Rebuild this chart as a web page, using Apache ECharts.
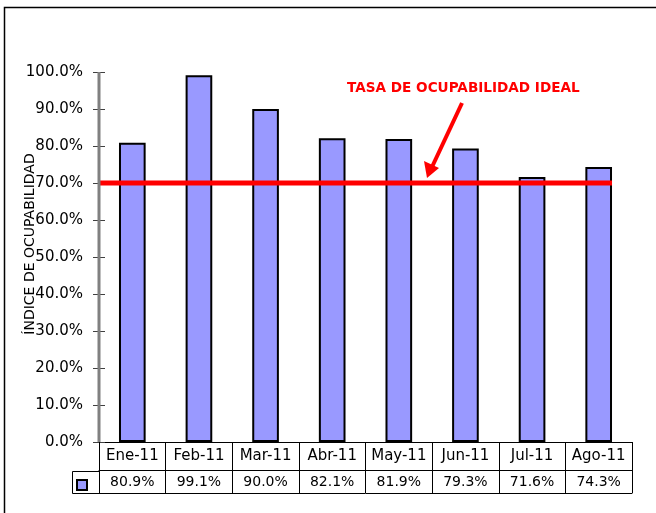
<!DOCTYPE html>
<html>
<head>
<meta charset="utf-8">
<style>
  html, body { margin: 0; padding: 0; background: #fff; }
  #chart { width: 656px; height: 513px; }
</style>
<script src="https://cdn.jsdelivr.net/npm/echarts@6/dist/echarts.min.js"></script>
</head>
<body>
<div id="chart"></div>
<script>
const categories = ['Ene-11', 'Feb-11', 'Mar-11', 'Abr-11', 'May-11', 'Jun-11', 'Jul-11', 'Ago-11']
const ocupabilidad = [0.809, 0.991, 0.900, 0.821, 0.819, 0.793, 0.716, 0.743]
const tasaIdeal = 0.7
const yTicks = [0, 0.1, 0.2, 0.3, 0.4, 0.5, 0.6, 0.7, 0.8, 0.9, 1.0]

const FONT = 'DejaVu Sans'
const pct = v => (v * 100).toFixed(1) + '%'

const chart = echarts.init(document.getElementById('chart'))

const baseX = {
  type: 'category', data: categories, gridIndex: 0, position: 'bottom',
  axisLine: { show: true, onZero: false, lineStyle: { color: '#000', width: 1 } },
  axisTick: { show: false },
  axisLabel: { show: false },
  splitLine: { show: false },
}

chart.setOption({
  animation: false,
  backgroundColor: '#fff',
  textStyle: { fontFamily: FONT },
  grid: { left: 99, right: 24, top: 72, bottom: 71, outerBoundsMode: 'none', containLabel: false },
  xAxis: [
    {
      ...baseX,
      axisTick: { show: true, interval: 0, length: 51, lineStyle: { color: '#000', width: 1 } },
      axisLabel: { show: true, interval: 0, margin: 7, color: '#000', fontSize: 15, fontFamily: FONT },
    },
    {
      ...baseX, offset: 28,
      axisLabel: {
        show: true, interval: 0, margin: 5, color: '#000', fontSize: 14, fontFamily: FONT,
        formatter: (v, i) => pct(ocupabilidad[i]),
      },
    },
    { ...baseX, offset: 51 },
    { type: 'value', min: 0, max: categories.length, show: false, gridIndex: 0 },
  ],
  yAxis: [
    {
      type: 'value', min: 0, max: 1, interval: 0.1, position: 'left',
      name: 'ÍNDICE DE OCUPABILIDAD', nameLocation: 'middle', nameGap: 62, nameRotate: 90,
      nameMoveOverlap: false,
      nameTextStyle: { color: '#000', fontSize: 14, fontFamily: FONT, padding: [0, 0, 0, 26] },
      axisLine: { show: false },
      axisTick: { show: true, length: 6, lineStyle: { color: '#404040' } },
      axisLabel: { color: '#000', fontSize: 15, fontFamily: FONT, margin: 16,
        formatter: v => yTicks.some(t => Math.abs(t - v) < 1e-9) ? pct(v) : '' },
      splitLine: { show: false },
    },
    {
      type: 'value', min: 0, max: 1, interval: 0.1, position: 'left',
      axisLine: { show: false },
      axisTick: { show: true, inside: true, length: 6, lineStyle: { color: '#404040' } },
      axisLabel: { show: false },
      splitLine: { show: false },
    },
  ],
  series: [
    {
      type: 'bar', data: ocupabilidad, xAxisIndex: 0, yAxisIndex: 0,
      barWidth: '40%',
      itemStyle: { color: '#9999ff', borderColor: '#000', borderWidth: 2 },
    },
    {
      type: 'line', xAxisIndex: 3, yAxisIndex: 0, symbol: 'none', z: 5,
      data: [[0, tasaIdeal], [categories.length - 0.3, tasaIdeal]],
      lineStyle: { color: '#ff0000', width: 5 },
    },
  ],
  graphic: [
    // chart area frame
    { type: 'rect', shape: { x: 4.5, y: 7.5, width: 700, height: 600 }, style: { fill: 'none', stroke: '#000', lineWidth: 1.5 }, silent: true },
    // y axis line (grey)
    { type: 'rect', shape: { x: 97.5, y: 72, width: 3, height: 370 }, style: { fill: '#808080' }, z: 10, silent: true },
    // legend key cell
    { type: 'polyline', shape: { points: [[99, 471.5], [72.5, 471.5], [72.5, 493.5], [99, 493.5]] }, style: { fill: 'none', stroke: '#000', lineWidth: 1 }, silent: true },
    { type: 'rect', shape: { x: 77, y: 480, width: 10, height: 10 }, style: { fill: '#9999ff', stroke: '#000', lineWidth: 2 }, silent: true },
    // annotation
    {
      type: 'text', left: 347, top: 81,
      style: { text: 'TASA DE OCUPABILIDAD IDEAL', fill: '#ff0000', font: 'bold 13.6px "DejaVu Sans"' },
      silent: true,
    },
    { type: 'line', shape: { x1: 462, y1: 103, x2: 432, y2: 167 }, style: { stroke: '#ff0000', lineWidth: 4 }, silent: true },
    { type: 'polygon', shape: { points: [[427, 178], [424, 161], [439, 168]] }, style: { fill: '#ff0000' }, silent: true },
  ],
})
</script>
</body>
</html>
